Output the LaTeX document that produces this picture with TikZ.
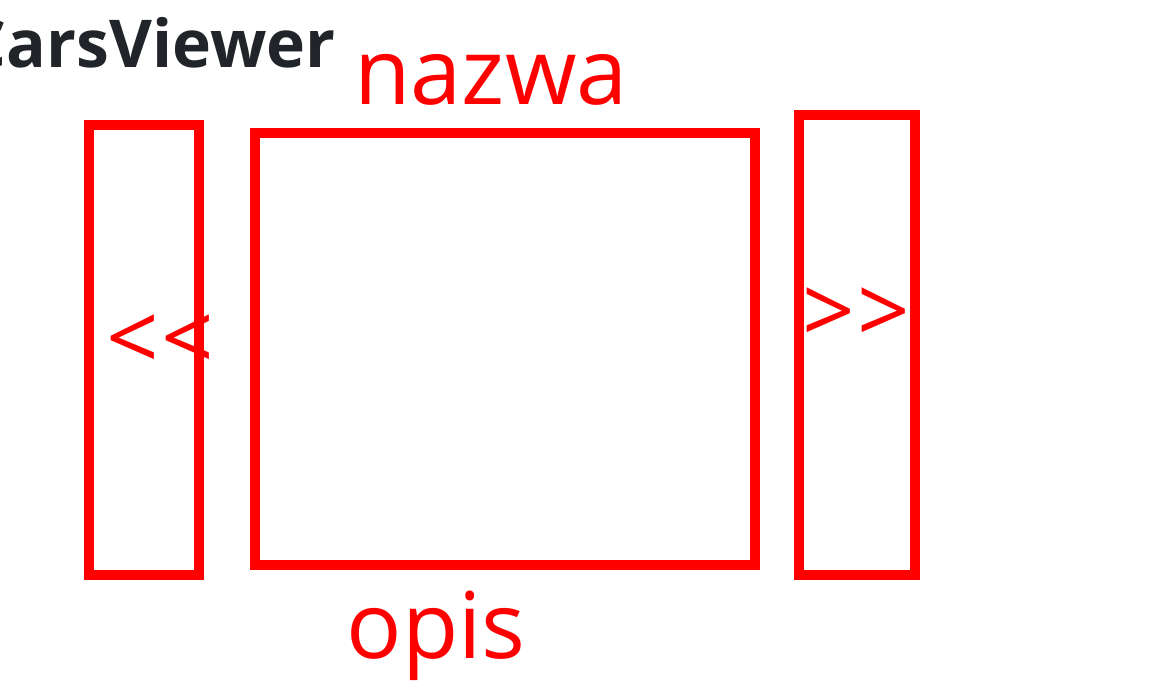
\documentclass[tikz,border=0pt]{standalone}
\usepackage{fontspec}
\setmainfont{Open Sans}[Ligatures=NoCommon]
\definecolor{titlegray}{HTML}{212529}
\definecolor{markred}{HTML}{FF0000}
\begin{document}
\begin{tikzpicture}[x=0.5pt,y=-0.5pt,
  box/.style={draw=markred,line width=5pt},
  redlabel/.style={text=markred,inner sep=0pt,font=\fontsize{46}{55}\selectfont},
  title/.style={text=titlegray,inner sep=0pt,font=\fontsize{33}{40}\selectfont\bfseries}]
\useasboundingbox[fill=white] (0,0) rectangle (1152,694);
\draw[box] (89,125) rectangle (199,575);
\draw[box] (255,133) rectangle (755,565);
\draw[box] (799,115) rectangle (915,575);
\node[title,anchor=base east] (title) at (336,68) {CarsViewer};
\node[redlabel,anchor=base] (nazwa) at (491,105) {nazwa};
\node[redlabel,anchor=base] (opis) at (436,659) {opis};
\node[redlabel,anchor=center] (prev) at (160,343) {{<}\kern0.03em{<}};
\node[redlabel,anchor=center] (next) at (856,316) {{>}\kern0.03em{>}};
\end{tikzpicture}
\end{document}
